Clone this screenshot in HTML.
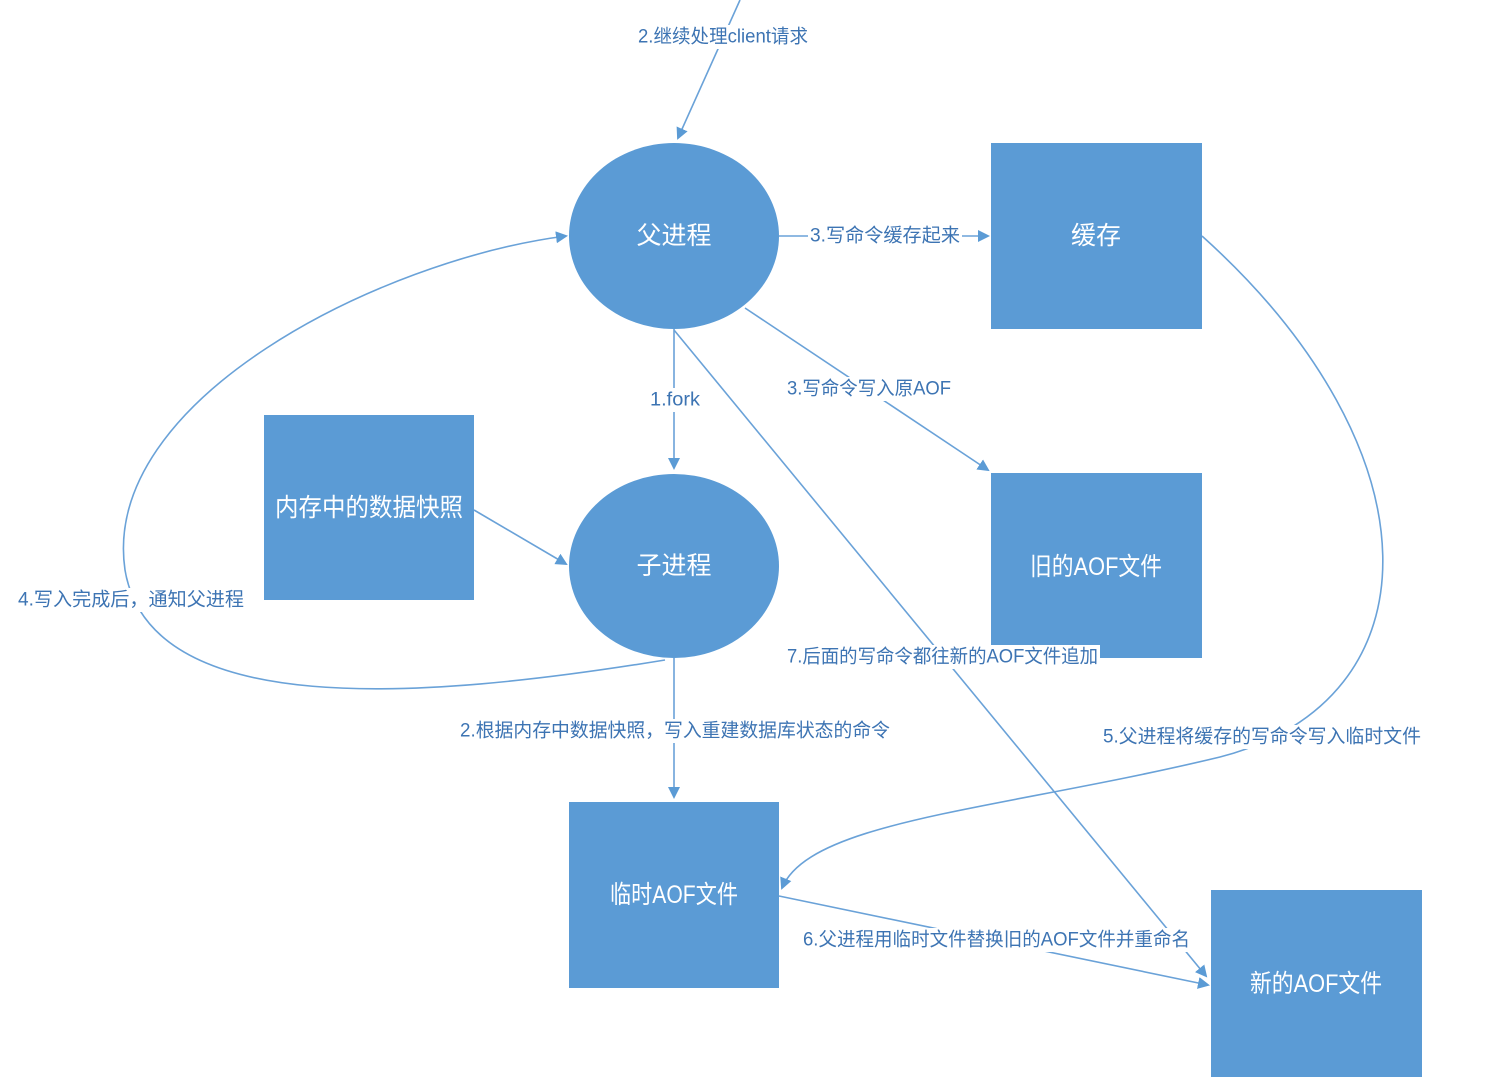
<!DOCTYPE html>
<html><head><meta charset="utf-8"><style>
html,body{margin:0;padding:0;background:#fff;}
svg{display:block;}
.n{fill:#5b9bd5;}
.t{fill:#fff;font-family:"Liberation Sans","Noto Sans CJK SC",sans-serif;font-size:25px;text-anchor:middle;dominant-baseline:central;}
.l{fill:#3d74b3;font-family:"Liberation Sans","Noto Sans CJK SC",sans-serif;font-size:19px;dominant-baseline:central;}
.c{stroke:#6aa2d8;stroke-width:1.6;fill:none;}
</style></head><body>
<svg width="1486" height="1092" viewBox="0 0 1486 1092" xmlns="http://www.w3.org/2000/svg">
<defs><marker id="a" markerWidth="12" markerHeight="12" refX="10" refY="6" orient="auto" markerUnits="userSpaceOnUse"><path d="M0,0 L12,6 L0,12 z" fill="#5b9bd5"/></marker></defs>
<path class="c" d="M740,0 L678,138" marker-end="url(#a)"/>
<path class="c" d="M779,236 L988,236" marker-end="url(#a)"/>
<path class="c" d="M745,308 L988,470" marker-end="url(#a)"/>
<path class="c" d="M674,329 L674,468" marker-end="url(#a)"/>
<path class="c" d="M474,510 L566,564" marker-end="url(#a)"/>
<path class="c" d="M674,658 L674,797" marker-end="url(#a)"/>
<path class="c" d="M665,660 C420,700 150,720 125,570 C100,400 380,260 566,236" marker-end="url(#a)"/>
<path class="c" d="M1202,236 C1440,450 1440,700 1220,757 C1000,810 810,820 782,888" marker-end="url(#a)"/>
<path class="c" d="M674,330 L1206,976" marker-end="url(#a)"/>
<path class="c" d="M779,896 L1208,985" marker-end="url(#a)"/>
<ellipse class="n" cx="674" cy="236" rx="105" ry="93"/>
<ellipse class="n" cx="674" cy="566" rx="105" ry="92"/>
<rect class="n" x="991" y="143" width="211" height="186"/>
<rect class="n" x="264" y="415" width="210" height="185"/>
<rect class="n" x="991" y="473" width="211" height="185"/>
<rect class="n" x="569" y="802" width="210" height="186"/>
<rect class="n" x="1211" y="890" width="211" height="187"/>
<text class="t" x="674" y="236">父进程</text>
<text class="t" x="674" y="566">子进程</text>
<text class="t" x="1096" y="236">缓存</text>
<text class="t" x="369" y="508" textLength="188" lengthAdjust="spacingAndGlyphs">内存中的数据快照</text>
<text class="t" x="1096" y="567" textLength="132" lengthAdjust="spacingAndGlyphs">旧的AOF文件</text>
<text class="t" x="674" y="895" textLength="128" lengthAdjust="spacingAndGlyphs">临时AOF文件</text>
<text class="t" x="1316" y="984" textLength="132" lengthAdjust="spacingAndGlyphs">新的AOF文件</text>
<rect x="636" y="25" width="175" height="24" fill="#fff"/>
<text class="l" x="638" y="37" textLength="170" lengthAdjust="spacingAndGlyphs">2.继续处理client请求</text>
<rect x="808" y="224" width="154" height="24" fill="#fff"/>
<text class="l" x="810" y="236" textLength="150" lengthAdjust="spacingAndGlyphs">3.写命令缓存起来</text>
<rect x="785" y="377" width="168" height="24" fill="#fff"/>
<text class="l" x="787" y="389" textLength="164" lengthAdjust="spacingAndGlyphs">3.写命令写入原AOF</text>
<rect x="648" y="388" width="54" height="24" fill="#fff"/>
<text class="l" x="650" y="400" textLength="50" lengthAdjust="spacingAndGlyphs">1.fork</text>
<rect x="16" y="588" width="230" height="24" fill="#fff"/>
<text class="l" x="18" y="600" textLength="226" lengthAdjust="spacingAndGlyphs">4.写入完成后，通知父进程</text>
<rect x="785" y="645" width="315" height="24" fill="#fff"/>
<text class="l" x="787" y="657" textLength="311" lengthAdjust="spacingAndGlyphs">7.后面的写命令都往新的AOF文件追加</text>
<rect x="458" y="719" width="434" height="24" fill="#fff"/>
<text class="l" x="460" y="731" textLength="430" lengthAdjust="spacingAndGlyphs">2.根据内存中数据快照，写入重建数据库状态的命令</text>
<rect x="1101" y="725" width="322" height="24" fill="#fff"/>
<text class="l" x="1103" y="737" textLength="318" lengthAdjust="spacingAndGlyphs">5.父进程将缓存的写命令写入临时文件</text>
<rect x="801" y="928" width="391" height="24" fill="#fff"/>
<text class="l" x="803" y="940" textLength="387" lengthAdjust="spacingAndGlyphs">6.父进程用临时文件替换旧的AOF文件并重命名</text>
</svg>
</body></html>
